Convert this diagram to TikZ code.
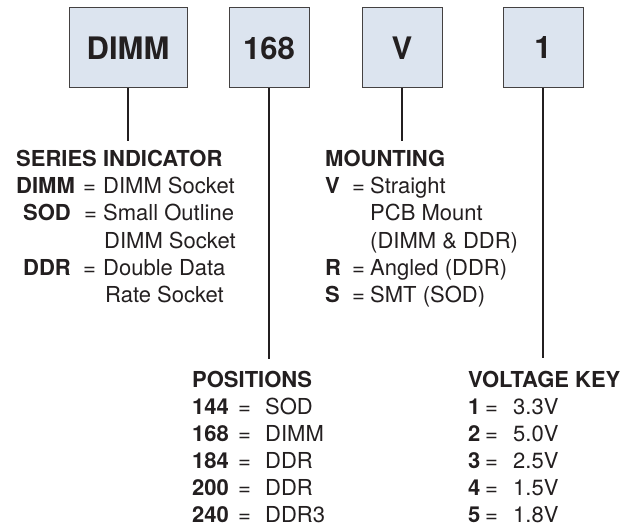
\documentclass[tikz,border=0pt]{standalone}
\usepackage{fontspec}
\setmainfont{TeX Gyre Heros}
\definecolor{boxfill}{HTML}{DCE4EF}
\definecolor{ink}{HTML}{231F20}
\begin{document}
\begin{tikzpicture}[x=1pt,y=-1pt,
  codebox/.style={draw=ink!85,line width=1pt,fill=boxfill,minimum height=80pt,inner sep=0pt,
    text=ink,font=\fontsize{31}{31}\selectfont\bfseries,text depth=0pt},
  lead/.style={draw=ink,line width=2pt},
  txt/.style={anchor=base west,inner sep=0pt,text=ink,font=\fontsize{22}{26}\selectfont},
  btxt/.style={txt,font=\fontsize{22}{26}\selectfont\bfseries}]
\useasboundingbox (0,0) rectangle (644,526);
% code boxes
\node[codebox,minimum width=118pt] (bdimm) at (128,48) {DIMM};
\node[codebox,minimum width=80pt] (b168) at (269,48) {168};
\node[codebox,minimum width=80pt] (bv) at (402,48) {V};
\node[codebox,minimum width=80pt] (b1) at (543,48) {1};
% leader ends
\coordinate (edimm) at (128,141);
\coordinate (e168) at (269,359);
\coordinate (ev) at (402,141);
\coordinate (e1) at (543,358);
\draw[lead] (bdimm.south) -- (edimm);
\draw[lead] (b168.south) -- (e168);
\draw[lead] (bv.south) -- (ev);
\draw[lead] (b1.south) -- (e1);
% series indicator
\node[btxt] (sh) at (16,167) {SERIES INDICATOR};
\node[btxt] (s1k) at (16,194) {DIMM};
\node[txt] (s1e) at (83,194) {=};
\node[txt] (s1v) at (103,194) {DIMM Socket};
\node[btxt] (s2k) at (23,221) {SOD};
\node[txt] (s2e) at (84,221) {=};
\node[txt] (s2v) at (103,221) {Small Outline};
\node[txt] (s3v) at (104,248) {DIMM Socket};
\node[btxt] (s4k) at (23,275) {DDR};
\node[txt] (s4e) at (83,275) {=};
\node[txt] (s4v) at (103,275) {Double Data};
\node[txt] (s5v) at (105,302) {Rate Socket};
% mounting
\node[btxt] (mh) at (325,167) {MOUNTING};
\node[btxt] (m1k) at (325,194) {V};
\node[txt] (m1e) at (352,194) {=};
\node[txt] (m1v) at (370,194) {Straight};
\node[txt] (m2v) at (370,221) {PCB Mount};
\node[txt] (m3v) at (370,248) {(DIMM \& DDR)};
\node[btxt] (m4k) at (325,275) {R};
\node[txt] (m4e) at (352,275) {=};
\node[txt] (m4v) at (370,275) {Angled (DDR)};
\node[btxt] (m5k) at (325,302) {S};
\node[txt] (m5e) at (352,302) {=};
\node[txt] (m5v) at (370,302) {SMT (SOD)};
% positions
\node[btxt] (ph) at (192,387) {POSITIONS};
\foreach \k/\v [count=\i] in {144/SOD,168/DIMM,184/DDR,200/DDR,240/DDR3}{
  \node[btxt] (pk\i) at (192,387+27*\i) {\k};
  \node[txt] (pe\i) at (238,387+27*\i) {=};
  \node[txt] (pv\i) at (265,387+27*\i) {\v};
}
% voltage key
\node[btxt] (vh) at (468,387) {VOLTAGE KEY};
\foreach \k/\v [count=\i] in {1/3.3V,2/5.0V,3/2.5V,4/1.5V,5/1.8V}{
  \node[btxt] (vk\i) at (468,387+27*\i) {\k};
  \node[txt] (ve\i) at (485,387+27*\i) {=};
  \node[txt] (vv\i) at (513,387+27*\i) {\v};
}
\end{tikzpicture}
\end{document}
